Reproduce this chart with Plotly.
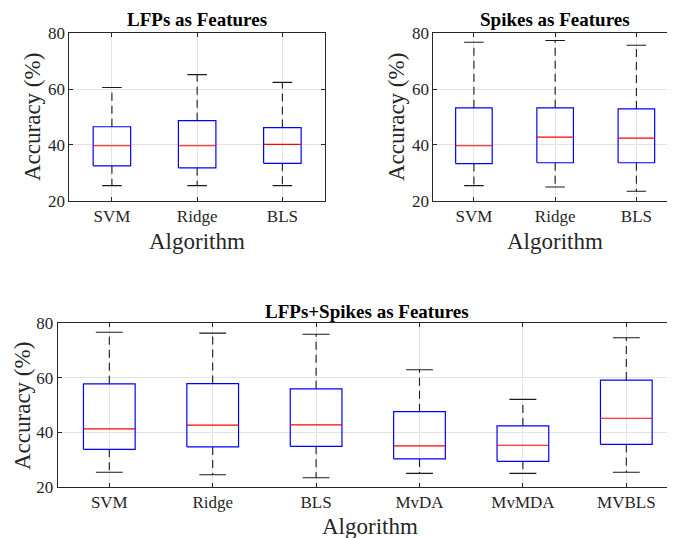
import plotly.graph_objects as go

# ---------------- data ----------------
categories_top = ["SVM", "Ridge", "BLS"]
categories_bottom = ["SVM", "Ridge", "BLS", "MvDA", "MvMDA", "MVBLS"]

lfp_lower = [25.4, 25.4, 25.4]
lfp_q1 = [32.5, 31.8, 33.4]
lfp_median = [39.7, 39.7, 40.2]
lfp_q3 = [46.5, 48.7, 46.2]
lfp_upper = [60.6, 65.2, 62.4]

spk_lower = [25.4, 24.9, 23.4]
spk_q1 = [33.3, 33.6, 33.6]
spk_median = [39.7, 42.8, 42.4]
spk_q3 = [53.3, 53.3, 52.9]
spk_upper = [76.8, 77.4, 75.7]

both_lower = [25.4, 24.5, 23.4, 25.0, 25.0, 25.4]
both_q1 = [33.8, 34.7, 34.9, 30.3, 29.4, 35.6]
both_median = [41.3, 42.7, 42.8, 35.1, 35.3, 45.2]
both_q3 = [57.8, 57.9, 56.0, 47.6, 42.4, 59.2]
both_upper = [76.7, 76.4, 76.0, 63.0, 52.1, 74.7]

y_ticks = [20, 40, 60, 80]

# ---------------- style ----------------
FONT = "Liberation Serif"
AX = "#262626"
GRID = "#e3e3e3"
W, H = 675, 538
OFF = 8  # page offset of the figure in the browser


def px(s):
    return (s - OFF) / W


def py(s):
    return 1 - (s - OFF) / H


fig = go.Figure()


def add_boxes(lower, q1, med, q3, upper, half_box, half_cap, xa, ya):
    bx, by, mx, my, wx, wy, cx, cy = [], [], [], [], [], [], [], []
    for i in range(len(med)):
        c = i + 1
        bx += [c - half_box, c + half_box, c + half_box, c - half_box, c - half_box, None]
        by += [q1[i], q1[i], q3[i], q3[i], q1[i], None]
        mx += [c - half_box, c + half_box, None]
        my += [med[i], med[i], None]
        wx += [c, c, None, c, c, None]
        wy += [q3[i], upper[i], None, q1[i], lower[i], None]
        cx += [c - half_cap, c + half_cap, None, c - half_cap, c + half_cap, None]
        cy += [upper[i], upper[i], None, lower[i], lower[i], None]
    common = dict(mode="lines", xaxis=xa, yaxis=ya, showlegend=False, hoverinfo="skip")
    fig.add_trace(go.Scatter(x=wx, y=wy, line=dict(color="#1a1a1a", width=1.1, dash="8px,5px"), **common))
    fig.add_trace(go.Scatter(x=cx, y=cy, line=dict(color="#1a1a1a", width=1.1), **common))
    fig.add_trace(go.Scatter(x=bx, y=by, line=dict(color="#0000ff", width=1.2), **common))
    fig.add_trace(go.Scatter(x=mx, y=my, line=dict(color="#ff0000", width=1.2), **common))


add_boxes(lfp_lower, lfp_q1, lfp_median, lfp_q3, lfp_upper, 0.22, 0.115, "x", "y")
add_boxes(spk_lower, spk_q1, spk_median, spk_q3, spk_upper, 0.225, 0.12, "x2", "y2")
add_boxes(both_lower, both_q1, both_median, both_q3, both_upper, 0.25, 0.13, "x3", "y3")


def xax(domain, cats, anchor):
    return dict(domain=domain, range=[0.5, len(cats) + 0.5], anchor=anchor, tickmode="array",
                tickvals=list(range(1, len(cats) + 1)), ticktext=cats,
                showgrid=True, gridcolor=GRID, gridwidth=1, zeroline=False,
                showline=True, linecolor=AX, linewidth=1, mirror="ticks",
                ticks="inside", ticklen=4, tickcolor=AX, automargin=False,
                tickfont=dict(family=FONT, size=17, color=AX))


def yax(domain, anchor):
    return dict(domain=domain, range=[20, 80], anchor=anchor, tickmode="array",
                tickvals=y_ticks, showgrid=True, gridcolor=GRID, gridwidth=1,
                zeroline=False, showline=True, linecolor=AX, linewidth=1,
                mirror="ticks", ticks="inside", ticklen=4, tickcolor=AX, automargin=False,
                tickfont=dict(family=FONT, size=17, color=AX))


top_y = [py(200.7), py(33.3)]
bot_y = [py(487), py(323.3)]

fig.update_layout(
    width=W, height=H,
    margin=dict(l=0, r=0, t=0, b=0, autoexpand=False),
    paper_bgcolor="white", plot_bgcolor="white",
    xaxis=xax([px(69.3), px(325)], categories_top, "y"),
    yaxis=yax(top_y, "x"),
    xaxis2=xax([px(433.3), px(677)], categories_top, "y2"),
    yaxis2=yax(top_y, "x2"),
    xaxis3=xax([px(57.6), px(678)], categories_bottom, "y3"),
    yaxis3=yax(bot_y, "x3"),
)

ann = []


def text(x, y, s, size, bold=False, angle=0):
    ann.append(dict(x=px(x), y=py(y), xref="paper", yref="paper",
                    text=("<b>%s</b>" % s) if bold else s,
                    showarrow=False, textangle=angle, xanchor="center", yanchor="middle",
                    font=dict(family=FONT, size=size, color="black" if bold else AX)))


text(197, 20, "LFPs as Features", 19, bold=True)
text(555, 20, "Spikes as Features", 19, bold=True)
text(367, 311, "LFPs+Spikes as Features", 19, bold=True)

text(197, 241, "Algorithm", 23)
text(555, 241, "Algorithm", 23)
text(370, 526, "Algorithm", 23)

text(33, 117, "Accuracy (%)", 23, angle=-90)
text(397, 117, "Accuracy (%)", 23, angle=-90)
text(22, 406, "Accuracy (%)", 23, angle=-90)

fig.update_layout(annotations=ann)

fig.write_html("out.html")
